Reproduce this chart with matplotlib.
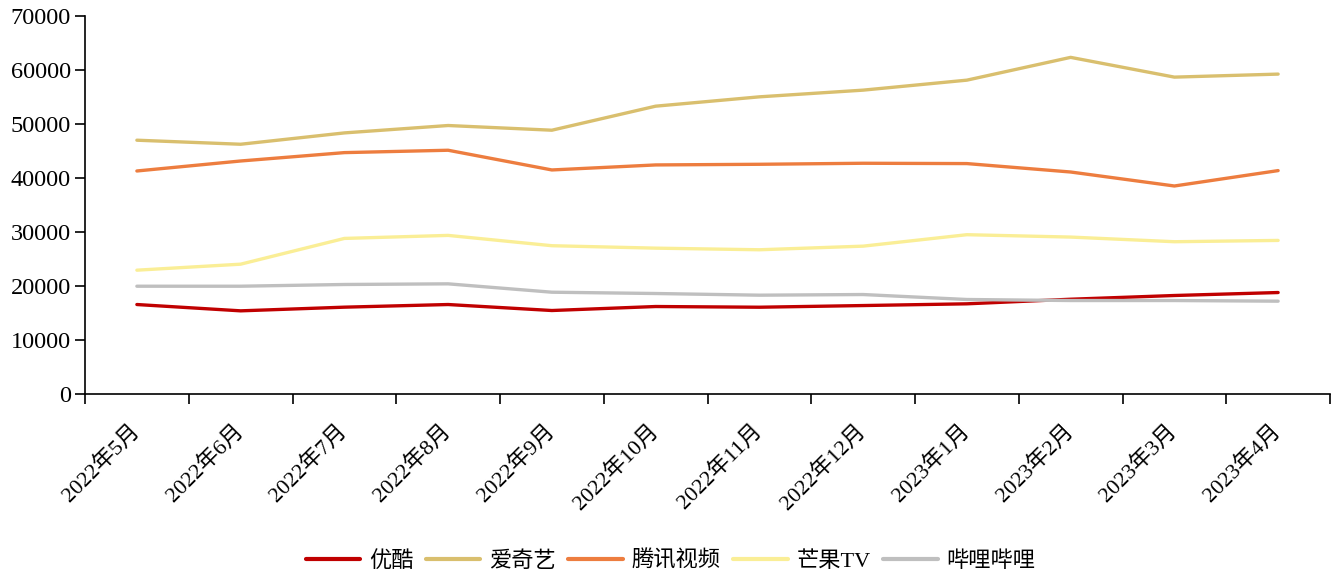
import matplotlib
matplotlib.use("Agg")
import matplotlib.pyplot as plt
import matplotlib.transforms as mtransforms
import numpy as np

plt.rcParams['font.family'] = ['Liberation Serif', 'Noto Sans CJK SC', 'DejaVu Sans']

months = ["2022年5月", "2022年6月", "2022年7月", "2022年8月", "2022年9月", "2022年10月",
          "2022年11月", "2022年12月", "2023年1月", "2023年2月", "2023年3月", "2023年4月"]

youku = [16570, 15400, 16080, 16570, 15460, 16200, 16070, 16380, 16700, 17550, 18240, 18790]
iqiyi = [47000, 46250, 48350, 49720, 48850, 53300, 55030, 56270, 58120, 62340, 58680, 59240]
tencent = [41300, 43150, 44700, 45140, 41490, 42420, 42540, 42730, 42670, 41110, 38520, 41370]
mango = [22930, 24040, 28810, 29370, 27460, 27010, 26710, 27380, 29500, 29060, 28200, 28440]
bilibili = [19960, 19960, 20280, 20400, 18850, 18610, 18300, 18420, 17500, 17310, 17310, 17190]

series = [
    ("优酷", youku, "#C00000"),
    ("爱奇艺", iqiyi, "#D9BF6E"),
    ("腾讯视频", tencent, "#ED7D3F"),
    ("芒果TV", mango, "#FAEE96"),
    ("哔哩哔哩", bilibili, "#BFBFBF"),
]

fig = plt.figure(figsize=(13.41, 5.75), dpi=100)
ax = fig.add_axes([85/1341, 1-394/575, (1330-85)/1341, (394-16)/575])

x = np.arange(len(months))
for name, vals, color in series:
    ax.plot(x, vals, color=color, lw=2.4, label=name, solid_capstyle='round')

ax.set_xlim(-0.5, len(months) - 0.5)
ax.set_ylim(0, 70000)
ax.set_yticks(np.arange(0, 70001, 10000))
ax.tick_params(axis='y', labelsize=17.5, direction='out', length=7, width=1.2, pad=3)
ax.set_xticks(np.arange(-0.5, len(months), 1.0))
ax.set_xticklabels([])
ax.tick_params(axis='x', direction='out', length=7, width=1.2)
ax.set_xticks(x, minor=True)
ax.set_xticklabels(months, minor=True, rotation=45, ha='right', va='top',
                   rotation_mode='anchor', fontsize=16)
ax.tick_params(axis='x', which='minor', length=0, pad=19)
offset = mtransforms.ScaledTranslation(-8/100, 0, fig.dpi_scale_trans)
for lab in ax.xaxis.get_minorticklabels():
    lab.set_transform(lab.get_transform() + offset)

ax.spines['top'].set_visible(False)
ax.spines['right'].set_visible(False)
ax.spines['left'].set_linewidth(1.2)
ax.spines['bottom'].set_linewidth(1.2)

leg = fig.legend(loc='center', bbox_to_anchor=(0.5, 1-561/575), ncol=5, frameon=False,
                 fontsize=16, handlelength=2.45, handletextpad=0.4, columnspacing=0.56)
for line in leg.get_lines():
    line.set_linewidth(3)

fig.savefig("out.png", dpi=100)
